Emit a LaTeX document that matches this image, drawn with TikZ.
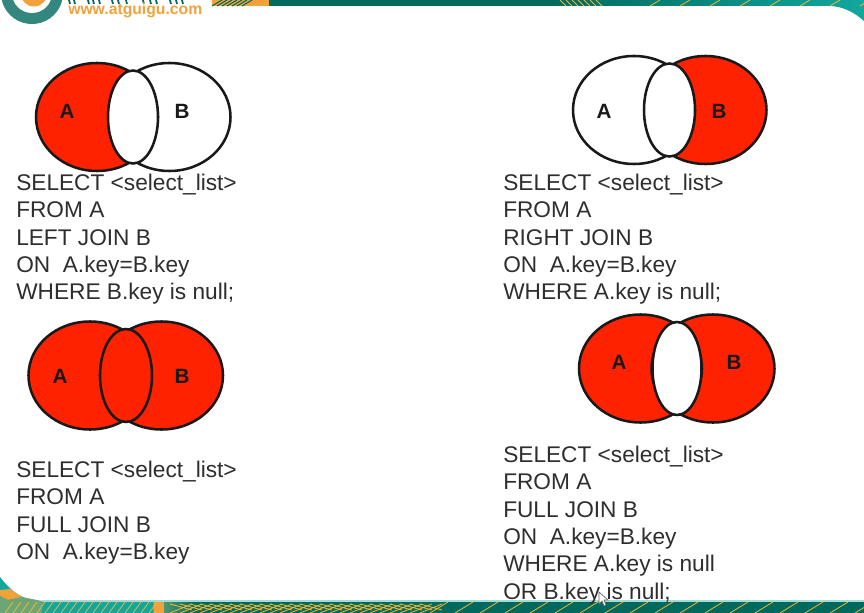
\documentclass[tikz,border=0pt]{standalone}
\usepackage{fontspec}
\setmainfont{Liberation Sans}
\usepackage{xcolor}
\usetikzlibrary{positioning,calc}
\definecolor{setred}{HTML}{FF2200}
\definecolor{bandteal}{HTML}{00695E}
\definecolor{lightteal}{HTML}{12A79E}
\definecolor{bandorange}{HTML}{F2A23A}
\definecolor{sqlgrey}{HTML}{2E2E2E}
\tikzset{
    setline/.style={line width=1.9pt,black!90},
    setname/.style={font=\fontsize{15.5}{18}\bfseries\selectfont,inner sep=0pt,black!90},
    sqltext/.style={anchor=north west,inner sep=0pt,align=left,text=sqlgrey,
        font=\fontsize{17}{20.45}\selectfont},
    weblabel/.style={inner sep=0pt,anchor=west,text=bandorange,
        font=\fontsize{11.8}{14}\bfseries\selectfont},
    stripe/.style={line width=0.6pt,bandorange!80!yellow}
}
\begin{document}
\begin{tikzpicture}[x=0.75pt,y=-0.75pt]
    \useasboundingbox (0,0) rectangle (864,613);
    \clip (0,0) rectangle (864,613);
    \fill[white] (0,0) rectangle (864,613);

    % top band
    \fill[bandorange] (212,0) rectangle (269,6);
    \fill[bandteal] (269,0) rectangle (548,6);
    \shade[left color=bandteal,right color=lightteal]
        (548,0) -- (864,0) -- (864,21) .. controls (854,12) and (842,6) .. (829,6) -- (548,6) -- cycle;
    \foreach \x in {212,217,...,245}
        \draw[bandteal,line width=0.8pt] (\x,6) -- (\x+10,0);
    \foreach \x in {560,566,...,596}
        \draw[stripe] (\x,0) -- (\x+6,6);
    \foreach \x in {650,680,...,860}
        \draw[stripe] (\x,6) -- (\x+10,0);

    % logo
    \fill[bandteal!80!white] (32,-7) circle (31);
    \fill[white] (32,-7) circle (20);
    \fill[bandorange] (34,-7) circle (13.5);
    \foreach \x in {69,74,88,93,99,112,118,126,143,150,156,170,176,182}
        \draw[bandteal,line width=1.3pt] (\x,0) -- (\x+1,4);
    \node[weblabel] (web) at (68,10.5) {www.atguigu.com};

    % bottom band
    \fill[lightteal] (0,613) -- (0,577) .. controls (10,590) and (22,601) .. (42,601) -- (153,601) -- (153,613) -- cycle;
    \fill[bandorange] (0,590) -- (10,589) -- (22,597) -- (8,600) -- (0,596) -- cycle;
    \fill[lightteal!60!bandorange] (0,596) -- (8,600) -- (22,597) -- (42,601) -- (42,613) -- (0,613) -- cycle;
    \shade[left color=lightteal!60!bandorange,right color=bandteal] (153,601) rectangle (195,613);
    \fill[bandteal] (195,601) rectangle (864,613);
    \fill[bandorange] (154,601) rectangle (164,613);
    \draw[lightteal!40!white,line width=0.8pt] (42,601) -- (864,601);
    \foreach \x in {5,13,...,150}
        \draw[stripe] (\x,613) -- (\x+8,602);
    \foreach \x in {170,180,...,420}
        \draw[stripe] (\x,613) -- (\x+22,604) (\x,604) -- (\x+22,610);
    \foreach \x in {430,455,...,860}
        \draw[stripe] (\x,613) -- (\x+18,602);

    % A only
    \begin{scope}[shift={(97,117)}]
        \fill[setred] (0,0) ellipse (61 and 54);
        \draw[setline] (0,0) ellipse (61 and 54);
        \draw[setline] (72.5,0) ellipse (61 and 54);
        \filldraw[setline,fill=white] (36,0) ellipse (25 and 46.5);
        \node[setname] (setA1) at (-30,-6) {A};
        \node[setname] (setB1) at (85,-6) {B};
    \end{scope}
    \node[sqltext] (sql1) at (16,174) {SELECT <select\_list>\\FROM A\\LEFT JOIN B\\ON\ \ A.key=B.key\\WHERE B.key is null;};

    % B only
    \begin{scope}[shift={(634,110)}]
        \fill[setred] (71.5,0) ellipse (61 and 54);
        \draw[setline] (0,0) ellipse (61 and 54);
        \draw[setline] (71.5,0) ellipse (61 and 54);
        \filldraw[setline,fill=white] (35.5,0) ellipse (25.5 and 46.5);
        \node[setname] (setA2) at (-30,1) {A};
        \node[setname] (setB2) at (85,1) {B};
    \end{scope}
    \node[sqltext] (sql2) at (503,174) {SELECT <select\_list>\\FROM A\\RIGHT JOIN B\\ON\ \ A.key=B.key\\WHERE A.key is null;};

    % both sets
    \begin{scope}[shift={(90,375.5)}]
        \fill[setred] (0,0) ellipse (61.5 and 54);
        \fill[setred] (71.5,0) ellipse (61.5 and 54);
        \draw[setline] (0,0) ellipse (61.5 and 54);
        \draw[setline] (71.5,0) ellipse (61.5 and 54);
        \filldraw[setline,fill=setred] (36,0) ellipse (26 and 46.5);
        \node[setname] (setA3) at (-30,1) {A};
        \node[setname] (setB3) at (92,1) {B};
    \end{scope}
    \node[sqltext] (sql3) at (16,461) {SELECT <select\_list>\\FROM A\\FULL JOIN B\\ON\ \ A.key=B.key};

    % without intersection
    \begin{scope}[shift={(640.5,368.5)}]
        \fill[setred] (0,0) ellipse (61.5 and 54);
        \fill[setred] (72.5,0) ellipse (61.5 and 54);
        \draw[setline] (0,0) ellipse (61.5 and 54);
        \draw[setline] (72.5,0) ellipse (61.5 and 54);
        \filldraw[setline,fill=white] (36.5,0) ellipse (24.5 and 46.5);
        \node[setname] (setA4) at (-21.5,-6.5) {A};
        \node[setname] (setB4) at (93.5,-6.5) {B};
    \end{scope}
    \node[sqltext] (sql4) at (503,446) {SELECT <select\_list>\\FROM A\\FULL JOIN B\\ON\ \ A.key=B.key\\WHERE A.key is null\\OR B.key is null;};

    % mouse cursor
    \filldraw[fill=white,draw=black!60,line width=0.5pt] (599,592) -- (599,604) -- (602,601) -- (604,606) -- (606,605) -- (604,600) -- (608,600) -- cycle;
\end{tikzpicture}
\end{document}
